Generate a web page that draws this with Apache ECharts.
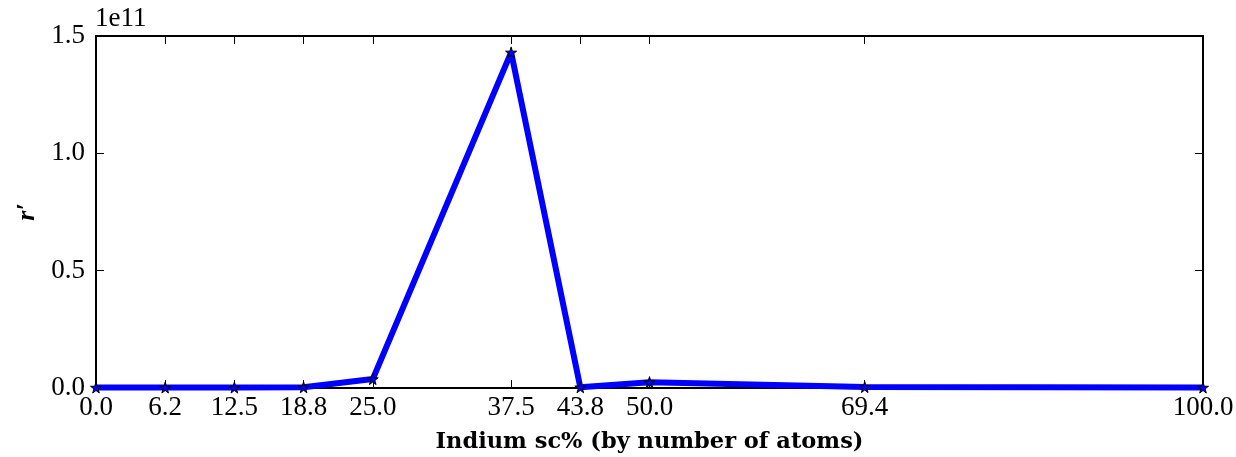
<!DOCTYPE html>
<html lang="en">
<head>
    <meta charset="UTF-8">
    <title>r' vs Indium sc%</title>
    <script src="https://cdn.jsdelivr.net/npm/echarts@6/dist/echarts.min.js"></script>
    <style>
        html, body { margin: 0; padding: 0; background: #fff; }
        #chart { width: 1236px; height: 457px; }
    </style>
</head>
<body>
    <div id="chart"></div>
    <script>
        // indium fraction (%) and r' values
        var xValues = [0, 6.25, 12.5, 18.75, 25, 37.5, 43.75, 50, 69.44, 100];
        var xTickLabels = ['0.0', '6.2', '12.5', '18.8', '25.0', '37.5', '43.8', '50.0', '69.4', '100.0'];
        var rValues = [0.002e11, 0.002e11, 0.002e11, 0.003e11, 0.038e11, 1.43e11, 0.003e11, 0.025e11, 0.004e11, 0.002e11];

        var font = 'Liberation Serif';
        var titleFont = 'DejaVu Serif';
        var star = 'path://M50,0 L61,35 L98,35 L68,57 L79,91 L50,70 L21,91 L32,57 L2,35 L39,35 Z';

        var chart = echarts.init(document.getElementById('chart'));

        function xLabel(v) {
            var i = xValues.indexOf(v);
            return i >= 0 ? xTickLabels[i] : '';
        }

        var axisLine = { show: true, onZero: false, lineStyle: { color: '#000', width: 2 } };
        var tick = { show: true, inside: true, length: 8, lineStyle: { color: '#000', width: 1 } };

        var option = {
            animation: false,
            grid: { left: 96, right: 33, top: 36, bottom: 69, outerBoundsMode: 'none' },
            graphic: [{
                type: 'text',
                left: 95,
                top: 5,
                style: { text: '1e11', font: '27px "' + font + '"', fill: '#000' }
            }],
            xAxis: [{
                type: 'value',
                min: 0, max: 100,
                name: 'Indium sc% (by number of atoms)',
                nameLocation: 'middle',
                nameGap: 43,
                nameMoveOverlap: false,
                nameTextStyle: { fontFamily: titleFont, fontWeight: 'bold', fontSize: 22.5, color: '#000' },
                axisLine: axisLine,
                axisTick: Object.assign({ customValues: xValues }, tick),
                axisLabel: {
                    customValues: xValues,
                    formatter: xLabel,
                    fontFamily: font, fontSize: 27, color: '#000', margin: 6
                },
                splitLine: { show: false }
            }, {
                type: 'value',
                position: 'top',
                min: 0, max: 100,
                axisLine: axisLine,
                axisTick: Object.assign({ customValues: xValues }, tick),
                axisLabel: { show: false, customValues: xValues },
                splitLine: { show: false }
            }],
            yAxis: [{
                type: 'value',
                min: 0, max: 1.5e11, interval: 0.5e11,
                name: 'r\u2032',
                nameLocation: 'middle',
                nameRotate: 90,
                nameGap: 56,
                nameMoveOverlap: false,
                nameTextStyle: { fontFamily: font, fontWeight: 'bold', fontStyle: 'italic', fontSize: 26, color: '#000' },
                axisLine: axisLine,
                axisTick: tick,
                axisLabel: {
                    formatter: function (v) { return (v / 1e11).toFixed(1); },
                    fontFamily: font, fontSize: 27, color: '#000', margin: 11
                },
                splitLine: { show: false }
            }, {
                type: 'value',
                position: 'right',
                min: 0, max: 1.5e11, interval: 0.5e11,
                axisLine: axisLine,
                axisTick: tick,
                axisLabel: { show: false },
                splitLine: { show: false }
            }],
            series: [{
                type: 'line',
                data: xValues.map(function (x, i) { return [x, rValues[i]]; }),
                lineStyle: { color: '#0000ff', width: 6 },
                symbol: star,
                symbolSize: 11,
                itemStyle: { color: '#0000ff', borderColor: '#000', borderWidth: 1 },
                z: 3
            }]
        };

        chart.setOption(option);
    </script>
</body>
</html>
